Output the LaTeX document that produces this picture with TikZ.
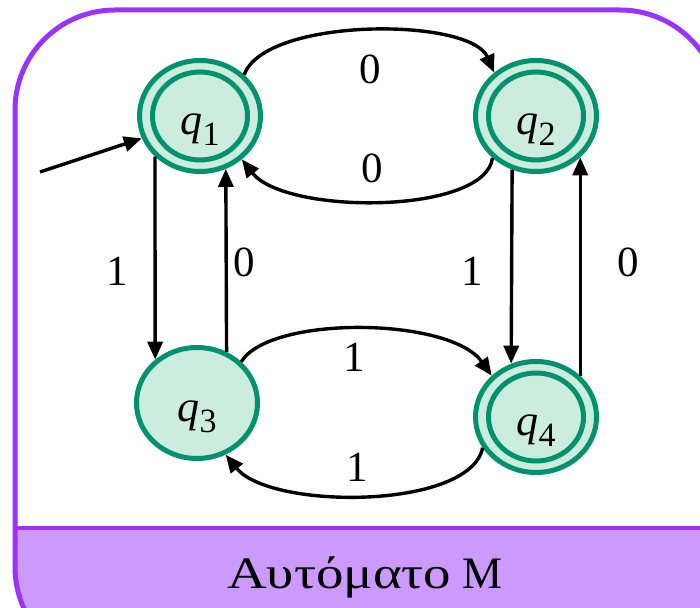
\documentclass[tikz,border=0pt]{standalone}
\usepackage{fontspec}
\setmainfont{Liberation Serif}
\usetikzlibrary{shapes.geometric,arrows.meta}
\definecolor{frameP}{RGB}{153,51,255}
\definecolor{barP}{RGB}{204,153,255}
\definecolor{stG}{RGB}{0,146,110}
\definecolor{fillG}{RGB}{204,236,222}
\begin{document}
\begin{tikzpicture}[x=1pt,y=1pt,
  state/.style={ellipse, draw=stG, fill=fillG, line width=5pt, minimum width=121pt, minimum height=111pt, inner sep=0pt},
  innerring/.style={ellipse, draw=stG, line width=5pt, minimum width=95pt, minimum height=88pt, inner sep=0pt},
  edge/.style={line width=3.4pt, -{Triangle[length=18pt,width=15pt]}},
  lab/.style={font=\fontsize{43pt}{43pt}\selectfont, inner sep=0pt},
  qlab/.style={font=\fontsize{44pt}{44pt}\selectfont, inner sep=0pt, anchor=base}]
\useasboundingbox (0,0) rectangle (700,607);
\clip (0,0) rectangle (700,607);
% frame
\begin{scope}
\clip[rounded corners=100pt] (15,-60) rectangle (720,597);
\fill[white] (15,-60) rectangle (720,597);
\fill[barP] (15,-60) rectangle (720,79);
\end{scope}
\draw[frameP, line width=3.5pt] (15,79) -- (720,79);
\draw[frameP, line width=5pt, rounded corners=100pt] (15,-60) rectangle (720,597);
\node[font=\fontsize{45pt}{45pt}\selectfont, anchor=base, inner sep=0pt] (title) at (365,19) {\scalebox{1.22}[1]{Αυτόματο} Μ};
% states
\node[state] (q1) at (200,491) {};
\node[innerring] (q1i) at (q1) {};
\node[state] (q2) at (536,491) {};
\node[innerring] (q2i) at (q2) {};
\node[state] (q3) at (197,204) {};
\node[state] (q4) at (536,190) {};
\node[innerring] (q4i) at (q4) {};
\node[qlab] (t1) at ([yshift=-19pt]q1.center) {{\itshape q}\raisebox{-11pt}{\fontsize{34pt}{34pt}\selectfont 1}};
\node[qlab] (t2) at ([yshift=-19pt]q2.center) {{\itshape q}\raisebox{-11pt}{\fontsize{34pt}{34pt}\selectfont 2}};
\node[qlab] (t3) at ([yshift=-19pt]q3.center) {{\itshape q}\raisebox{-11pt}{\fontsize{34pt}{34pt}\selectfont 3}};
\node[qlab] (t4) at ([yshift=-19pt]q4.center) {{\itshape q}\raisebox{-11pt}{\fontsize{34pt}{34pt}\selectfont 4}};
% edges
\coordinate (start) at (40,435);
\draw[edge] (start) -- (q1.201);
\draw[edge] (q1.43) .. controls (265,590) and (470,590) .. (q2.134);
\draw[edge] (q2.224) .. controls (485,392) and (285,392) .. (q1.314);
\draw[edge] (q1.222) -- (q3.134);
\draw[edge] (q3.60) -- (q1.296);
\draw[edge] (q2.246) -- (q4.115);
\draw[edge] (q4.43) -- (q2.317);
\draw[edge] (q3.43) .. controls (270,292) and (450,290) .. (q4.137);
\draw[edge] (q4.210) .. controls (470,97) and (270,97) .. (q3.299);
% edge labels
\node[lab] (a1) at (370,538) {0};
\node[lab] (a2) at (372,439) {0};
\node[lab] (a3) at (117,335.5) {1};
\node[lab] (a4) at (244,345) {0};
\node[lab] (a5) at (472,336) {1};
\node[lab] (a6) at (628,345) {0};
\node[lab] (a7) at (354,249.5) {1};
\node[lab] (a8) at (357,139.5) {1};
\end{tikzpicture}
\end{document}
